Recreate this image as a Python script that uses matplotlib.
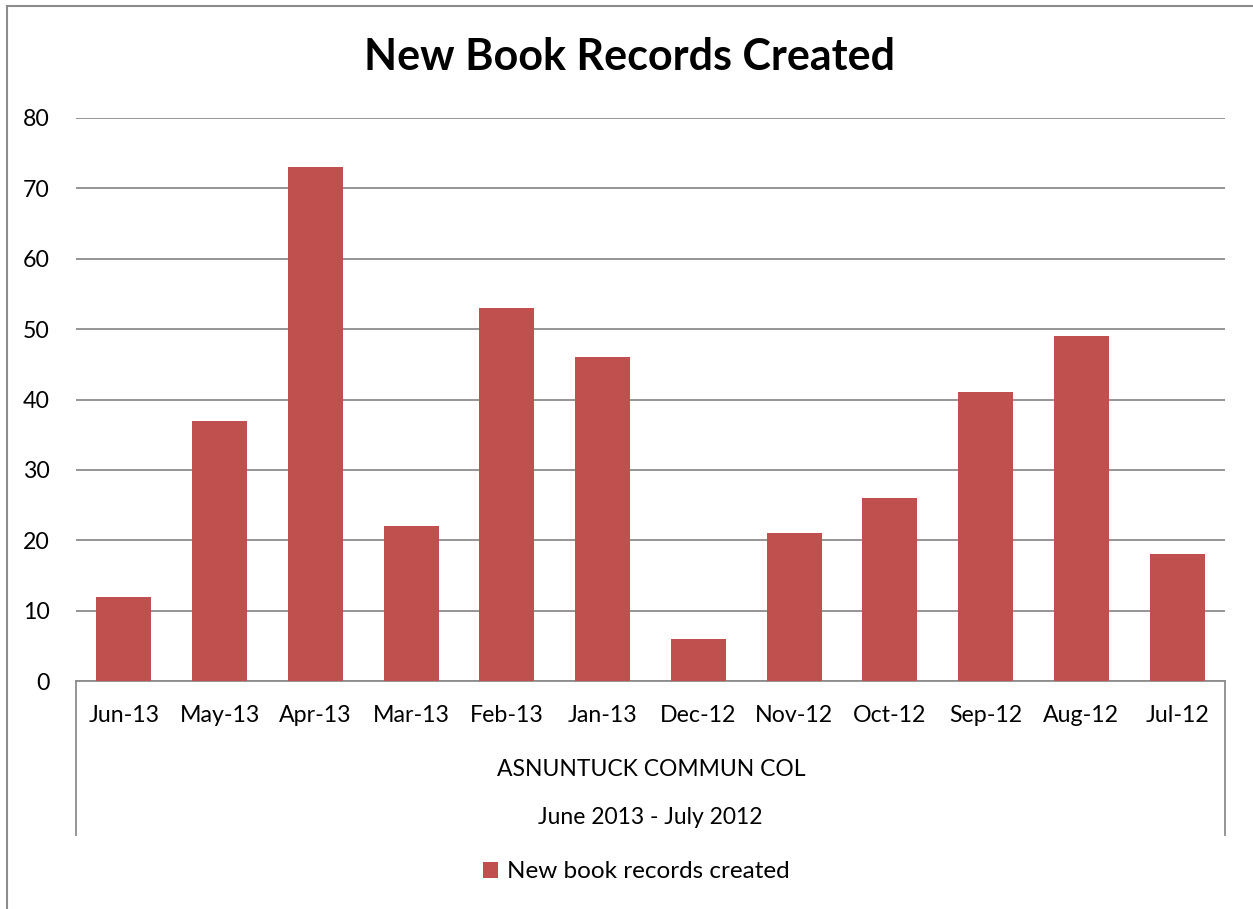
import matplotlib.pyplot as plt
from matplotlib.lines import Line2D

months = ['Jun-13', 'May-13', 'Apr-13', 'Mar-13', 'Feb-13', 'Jan-13',
          'Dec-12', 'Nov-12', 'Oct-12', 'Sep-12', 'Aug-12', 'Jul-12']
records = [12, 37, 73, 22, 53, 46, 6, 21, 26, 41, 49, 18]
group_label = 'ASNUNTUCK COMMUN COL'
range_label = 'June 2013 - July 2012'
series_name = 'New book records created'

plt.rcParams['font.family'] = ['Lato', 'DejaVu Sans']
bar_color = '#C0504D'
grid_color = '#8C8C8C'

fig = plt.figure(figsize=(12.53, 9.09), dpi=100)
ax = fig.add_axes([76/1253, 1 - 681/909, 1149/1253, 563/909])

x = range(len(months))
ax.bar(x, records, width=0.575, color=bar_color, zorder=3, label=series_name)
ax.set_xlim(-0.5, len(months) - 0.5)
ax.set_ylim(0, 80)
ax.set_yticks(range(0, 81, 10))
ax.yaxis.grid(True, color=grid_color, linewidth=1.3, zorder=0)
for s in ['left', 'right', 'top']:
    ax.spines[s].set_visible(False)
ax.spines['bottom'].set_color(grid_color)
ax.spines['bottom'].set_linewidth(1.3)
ax.tick_params(axis='y', length=0, pad=19, labelsize=16.7)
ax.tick_params(axis='x', length=0, pad=17, labelsize=16.7)
ax.set_xticks(list(x))
ax.set_xticklabels(months)

# multi-level category axis: side lines and group labels
for xp in [76, 1225]:
    fig.add_artist(Line2D([xp/1253, xp/1253], [1 - 681/909, 1 - 835/909],
                          color=grid_color, linewidth=1.3))
fig.text(651/1253, 1 - 769/909, group_label, ha='center', va='center', fontsize=16.5)
fig.text(650/1253, 1 - 818/909, range_label, ha='center', va='center', fontsize=16.5)

# title
fig.text(630/1253, 1 - 57/909, 'New Book Records Created', ha='center', va='center',
         fontsize=31, fontweight='bold')

# legend
fig.legend(loc='center', bbox_to_anchor=(636/1253, 1 - 872/909), frameon=False,
           fontsize=17.5, handlelength=0.65, handleheight=0.65, handletextpad=0.35)

# chart border (left and top visible)
fig.add_artist(Line2D([7/1253, 7/1253], [0, 1 - 6/909], color=grid_color, linewidth=1.5))
fig.add_artist(Line2D([7/1253, 1], [1 - 6/909, 1 - 6/909], color=grid_color, linewidth=1.5))

fig.savefig('out.png', dpi=100)
